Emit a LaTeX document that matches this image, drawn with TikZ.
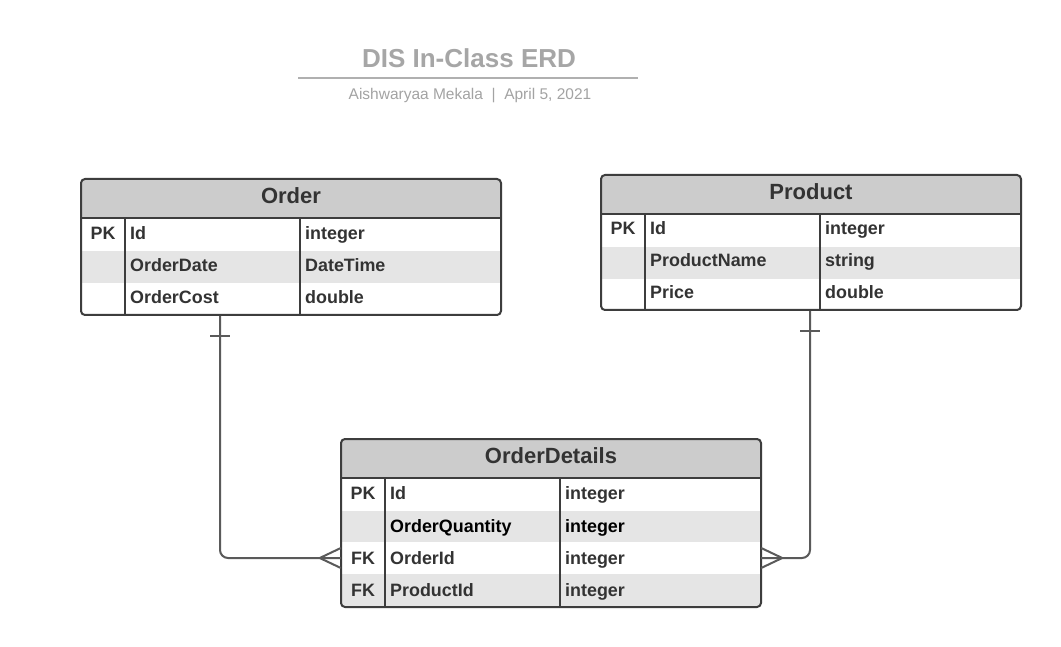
\documentclass[tikz,border=0pt]{standalone}
\usepackage{fontspec}
\setmainfont{Liberation Sans}
\usetikzlibrary{calc}
\definecolor{txt}{HTML}{333333}
\definecolor{bord}{HTML}{3D3D3D}
\definecolor{hdrfill}{HTML}{CCCCCC}
\definecolor{stripe}{HTML}{E5E5E5}
\definecolor{conncol}{HTML}{5A5A5A}
\definecolor{titlecol}{HTML}{A6A6A6}
\definecolor{subcol}{HTML}{A3A3A3}
\definecolor{rulecol}{HTML}{B0B0B0}
\begin{document}
\begin{tikzpicture}[x=1pt,y=-1pt,
  tblbox/.style={draw=bord, line width=2pt, rounded corners=4pt, inner sep=0pt},
  tblline/.style={draw=bord, line width=2pt},
  hdrtext/.style={anchor=base, font=\fontsize{22}{25}\selectfont\bfseries, text=txt, inner sep=0pt},
  celltext/.style={anchor=base west, font=\fontsize{17.9}{20}\selectfont\bfseries, text=txt, inner sep=0pt},
  keytext/.style={anchor=base, font=\fontsize{17.9}{20}\selectfont\bfseries, text=txt, inner sep=0pt},
  rowbox/.style={inner sep=0pt, minimum width=420pt, minimum height=32pt},
  conn/.style={draw=conncol, line width=2pt},
]
\fill[white] (0,0) rectangle (1061,647);
\useasboundingbox (0,0) rectangle (1061,647);

% Title
\node[anchor=base, inner sep=0pt, font=\fontsize{26}{30}\selectfont\bfseries, text=titlecol] (title) at (469,67.5) {DIS In-Class ERD};
\draw[rulecol, line width=2pt] (298,78) -- (638,78);
\node[anchor=base, inner sep=0pt, font=\fontsize{15.5}{18}\selectfont, text=subcol] (sub) at (470,99.5) {Aishwaryaa Mekala~~|~~April 5, 2021};

% ---------- Order ----------
\begin{scope}
\clip[rounded corners=4pt] (81,179) rectangle (501,315);
\fill[hdrfill] (81,179) rectangle (501,218);
\fill[stripe] (81,251) rectangle (501,283);
\end{scope}
\draw[tblline] (81,218) -- (501,218) (125,218) -- (125,315) (300,218) -- (300,315);
\node[tblbox, minimum width=420pt, minimum height=136pt] (order) at (291,247) {};
\node[hdrtext] (orderT) at (291,203.5) {Order};
\node[keytext] (orderPK) at (103,239.5) {PK};
\node[celltext] (orderC1) at (130,239.5) {Id};
\node[celltext] (orderD1) at (305,239.5) {integer};
\node[celltext] (orderC2) at (130,272) {OrderDate};
\node[celltext] (orderD2) at (305,272) {DateTime};
\node[celltext] (orderC3) at (130,304) {OrderCost};
\node[celltext] (orderD3) at (305,304) {double};

% ---------- Product ----------
\begin{scope}
\clip[rounded corners=4pt] (601,175) rectangle (1021,310);
\fill[hdrfill] (601,175) rectangle (1021,214);
\fill[stripe] (601,247) rectangle (1021,279);
\end{scope}
\draw[tblline] (601,214) -- (1021,214) (645,214) -- (645,310) (820,214) -- (820,310);
\node[tblbox, minimum width=420pt, minimum height=135pt] (product) at (811,242.5) {};
\node[hdrtext] (productT) at (811,199.5) {Product};
\node[keytext] (productPK) at (623,234.5) {PK};
\node[celltext] (productC1) at (650,234.5) {Id};
\node[celltext] (productD1) at (825,234.5) {integer};
\node[celltext] (productC2) at (650,267) {ProductName};
\node[celltext] (productD2) at (825,267) {string};
\node[celltext] (productC3) at (650,299) {Price};
\node[celltext] (productD3) at (825,299) {double};

% ---------- OrderDetails ----------
\begin{scope}
\clip[rounded corners=4pt] (341,439) rectangle (761,607);
\fill[hdrfill] (341,439) rectangle (761,478);
\fill[stripe] (341,511) rectangle (761,542);
\fill[stripe] (341,574) rectangle (761,607);
\end{scope}
\draw[tblline] (341,478) -- (761,478) (385,478) -- (385,607) (560,478) -- (560,607);
\node[tblbox, minimum width=420pt, minimum height=168pt] (od) at (551,523) {};
\node[rowbox] (odr3) at (551,558) {};
\node[hdrtext] (odT) at (551,463.5) {OrderDetails};
\node[keytext] (odPK) at (363,499.5) {PK};
\node[celltext] (odC1) at (390,499.5) {Id};
\node[celltext] (odD1) at (565,499.5) {integer};
\node[celltext, text=black] (odC2) at (390,532) {OrderQuantity};
\node[celltext, text=black] (odD2) at (565,532) {integer};
\node[keytext] (odFK1) at (363,564) {FK};
\node[celltext] (odC3) at (390,564) {OrderId};
\node[celltext] (odD3) at (565,564) {integer};
\node[keytext] (odFK2) at (363,596) {FK};
\node[celltext] (odC4) at (390,596) {ProductId};
\node[celltext] (odD4) at (565,596) {integer};

% ---------- Connectors ----------
% Order (one) -> OrderDetails (many)
\draw[conn, rounded corners=8pt] (order.south) ++(-71,0) |- (odr3.west);
\draw[conn] ($(order.south)+(-81,20)$) -- ($(order.south)+(-61,20)$);
\draw[conn] ($(odr3.west)+(-21,0)$) -- ($(odr3.west)+(0,-10)$)
            ($(odr3.west)+(-21,0)$) -- ($(odr3.west)+(0,10)$);
% Product (one) -> OrderDetails (many)
\draw[conn, rounded corners=8pt] (product.south) ++(-1,0) |- (odr3.east);
\draw[conn] ($(product.south)+(-11,20)$) -- ($(product.south)+(9,20)$);
\draw[conn] ($(odr3.east)+(21,0)$) -- ($(odr3.east)+(0,-10)$)
            ($(odr3.east)+(21,0)$) -- ($(odr3.east)+(0,10)$);
\end{tikzpicture}
\end{document}
